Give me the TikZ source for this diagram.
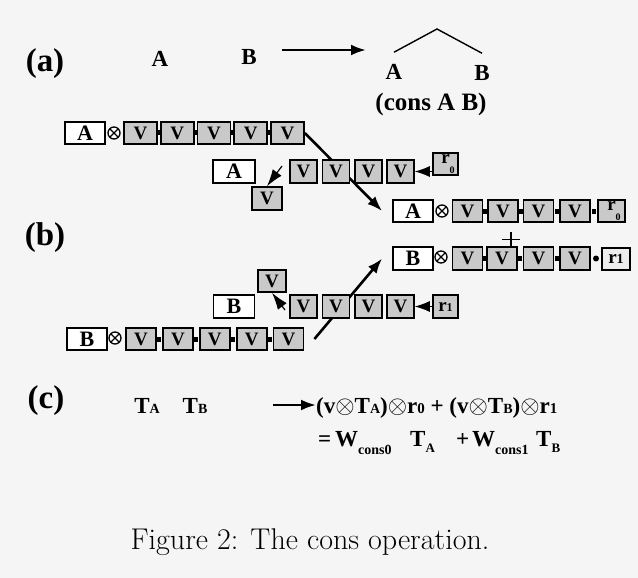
\documentclass[tikz,border=0pt]{standalone}
\usepackage{fontspec}
\newfontfamily\tms{Liberation Serif}
\usetikzlibrary{arrows.meta,calc}
\pgfdeclarelayer{bg}
\pgfdeclarelayer{back}
\pgfsetlayers{bg,back,main}
\begin{document}
\begin{tikzpicture}[x=1pt,y=-1pt,
  fw/.style={font=\tms\bfseries\fontsize{#1}{#1}\selectfont, inner sep=0pt},
  lbox/.style={draw, line width=1.8pt, fill=white, minimum width=40pt, minimum height=22pt, inner sep=0pt, font=\tms\bfseries\fontsize{22}{22}\selectfont},
  vbox/.style={draw, line width=1.6pt, fill=gray!42, minimum width=31pt, minimum height=22pt, inner sep=0pt, font=\tms\bfseries\fontsize{19}{19}\selectfont},
  cdot/.style={fill=black, minimum width=4pt, minimum height=5pt, inner sep=0pt},
  rdot/.style={circle, fill=black, minimum size=6pt, inner sep=0pt},
  otm/.style={circle, draw, fill=white, line width=1.3pt, minimum size=12pt, inner sep=0pt,
    path picture={\draw[line width=1.2pt] (path picture bounding box.north west) -- (path picture bounding box.south east) (path picture bounding box.north east) -- (path picture bounding box.south west);}},
  arr/.style={line width=2.6pt, -{Latex[length=15pt,width=11pt]}},
  tipl/.style={line width=1pt, -{Latex[length=15pt,width=11pt]}},
  drop/.style={line width=1.2pt, -{Latex[length=17pt,width=11pt]}},
  thin/.style={line width=1.4pt}
]
\useasboundingbox (0,0) rectangle (638,578);
\begin{pgfonlayer}{bg}
  \fill[black!4] (0,0) rectangle (638,578);
\end{pgfonlayer}

% ---------- (a)
\node[fw=33] (la) at (45,64) {(a)};
\node[fw=23] (ta) at (160,59) {A};
\node[fw=23] (tb) at (249,57) {B};
\coordinate (arS) at (282,50);
\coordinate (arE) at (366,50);
\draw[arr] (arS) -- (arE);
\node[fw=23] (tA) at (394,72) {A};
\node[fw=23] (tB) at (482,73) {B};
\coordinate (apex) at (437,29);
\draw[thin] ([yshift=12pt]tA.north) -- (apex) -- ([yshift=12pt]tB.north);
\node[fw=25] (cons) at (431,104) {(cons A B)};

% ---------- (b)
\node[fw=33] (lb) at (45,238) {(b)};

% row 1
\node[lbox] (a1) at (85,133) {A};
\node[otm] (o1) at (114,133) {};
\foreach \i in {1,...,5}
  \node[vbox, minimum width=33pt] (v1\i) at ({140.5+36.75*(\i-1)},133) {V};
\foreach \i/\j in {1/2,2/3,3/4,4/5}
  \node[cdot] (d1\i) at ($(v1\i.east)!.5!(v1\j.west)$) {};

% row 2
\node[lbox, minimum width=42pt, minimum height=23pt] (a2) at (234,171.5) {A};
\foreach \i/\x in {1/303.5,2/336,3/368.5,4/400.5}
  \node[vbox, minimum width=27pt, minimum height=23pt] (v2\i) at (\x,171.5) {V};
\node[vbox, minimum width=25pt, minimum height=22pt] (r2) at (445.5,164) {r\rlap{\raisebox{-10pt}{\fontsize{10}{10}\selectfont 0}}};
\draw[tipl] (r2.west |- v24.east) -- (v24.east);
\node[vbox, minimum width=30pt, minimum height=23pt] (vd) at (267,198.5) {V};
\coordinate (vdb) at (282,166);
\draw[drop] (vdb) -- (vd.north);

% row 3
\node[lbox] (a3) at (413,211) {A};
\node[otm] (o3) at (442,211) {};
\foreach \i/\x in {1/467.5,2/503,3/538.5,4/575}
  \node[vbox, minimum width=30pt] (v3\i) at (\x,211) {V};
\node[vbox, minimum width=27pt] (r3) at (611.5,211) {r\rlap{\raisebox{-10pt}{\fontsize{10}{10}\selectfont 0}}};
\foreach \i/\j in {1/2,2/3,3/4}
  \node[cdot] (d3\i) at ($(v3\i.east)!.5!(v3\j.west)$) {};
\node[cdot] (d34) at ($(v34.east)!.5!(r3.west)$) {};

% plus
\draw[thin] (502,239.5) -- (520,239.5);
\draw[thin] (511,232) -- (511,247);

% row 4
\node[lbox, minimum height=23pt] (b4) at (413,258.5) {B};
\node[otm] (o4) at (441,257) {};
\foreach \i/\x in {1/467.5,2/502,3/538.5,4/575}
  \node[vbox, minimum width=30pt, minimum height=23pt] (v4\i) at (\x,258.5) {V};
\foreach \i/\j in {1/2,2/3,3/4}
  \node[cdot] (d4\i) at ($(v4\i.east)!.5!(v4\j.west)$) {};
\node[rdot] (d44) at (596,258.5) {};
\node[vbox, fill=gray!14, minimum width=28pt] (r4) at (616,259) {r{\fontsize{14}{14}\selectfont 1}};

% row 5
\node[lbox, minimum width=41pt, minimum height=23pt] (b5) at (234,306.5) {B};
\foreach \i/\x in {1/303.5,2/336,3/368.5,4/400.5}
  \node[vbox, minimum width=27pt, minimum height=23pt] (v5\i) at (\x,306.5) {V};
\node[vbox, minimum width=25pt, minimum height=23pt] (r5) at (445.5,306.5) {r{\fontsize{12}{12}\selectfont 1}};
\draw[tipl] (r5.west |- v54.east) -- (v54.east);
\node[vbox, minimum width=28pt, minimum height=22pt] (vu) at (272,281) {V};
\coordinate (vub) at (285,310);
\draw[drop] (vub) -- (vu.south);

% row 6
\node[lbox] (b6) at (87,339) {B};
\node[otm] (o6) at (115,338) {};
\foreach \i in {1,...,5}
  \node[vbox, minimum width=30pt] (v6\i) at ({141+36.9*(\i-1)},339) {V};
\foreach \i/\j in {1/2,2/3,3/4,4/5}
  \node[cdot] (d6\i) at ($(v6\i.east)!.5!(v6\j.west)$) {};

% long arrows (behind boxes)
\begin{pgfonlayer}{back}
  \draw[arr] (v15.east) -- ([xshift=-10pt]a3.west);
  \draw[arr] ([xshift=10pt]v65.east) -- ([xshift=-10pt]b4.west);
\end{pgfonlayer}

% ---------- (c)
\node[fw=33] (lc) at (46,401) {(c)};
\node[fw=23, anchor=base] (cta) at (147,413) {T{\fontsize{14}{14}\selectfont A}};
\node[fw=23, anchor=base] (ctb) at (195,413) {T{\fontsize{14}{14}\selectfont B}};
\coordinate (c1) at (273,405);
\coordinate (c2) at (316,405);
\draw[arr] (c1) -- (c2);
\node[fw=23, anchor=base west] (ex1) at (316,413) {(v$\otimes$T{\fontsize{14}{14}\selectfont A})$\otimes$r{\fontsize{15}{15}\selectfont 0} + (v$\otimes$T{\fontsize{14}{14}\selectfont B})$\otimes$r{\fontsize{15}{15}\selectfont 1}};
\node[fw=23, anchor=base west] (eq) at (318,446) {=};
\node[fw=23, anchor=base west] (w0) at (335,446) {W\raisebox{-8pt}{\fontsize{14}{14}\selectfont cons0}};
\node[fw=23, anchor=base west] (tA2) at (410,446) {T\raisebox{-6pt}{\fontsize{13}{13}\selectfont A}};
\node[fw=23, anchor=base west] (pl) at (456,446) {+};
\node[fw=23, anchor=base west] (w1) at (472,446) {W\raisebox{-8pt}{\fontsize{14}{14}\selectfont cons1}};
\node[fw=23, anchor=base west] (tB2) at (536,446) {T\raisebox{-6pt}{\fontsize{13}{13}\selectfont B}};

% caption
\node[font=\fontsize{30}{32}\selectfont, anchor=base, inner sep=0pt] (cap) at (310,549) {Figure 2: The cons operation.};
\end{tikzpicture}
\end{document}
